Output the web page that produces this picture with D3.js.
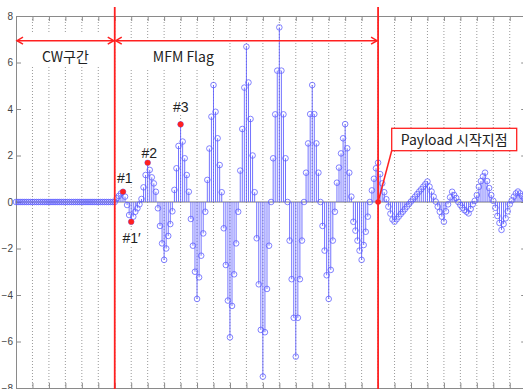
<!DOCTYPE html>
<html><head><meta charset="utf-8">
<script src="https://cdn.jsdelivr.net/npm/d3@7"></script>
<style>body{margin:0;background:#fff}svg{display:block}</style>
</head><body>
<svg id="chart" width="523" height="389"></svg>
<script>
// ---- data ----
const cwValues = [0,0,0,0,0,0,0,0,0,0,0,0,0,0,0,0,0,0,0,0,0,0,0,0,0,0,0,0,0,0,0,0,0,0,0,0,0,0,0,0,0,0,0,0,0,0,0,0,0];
const mfmValues = [
  0.16, 0.26, 0.37, 0.44, 0.23, -0.13, -0.56, -0.85,
  -0.63, -0.42, -0.27, -0.10, 0.13, 0.63, 1.16, 1.69,
  1.38, 1.06, 0.80, 0.44, -0.27, -1.03, -1.78, -2.49,
  -2.00, -1.46, -0.95, -0.40, 0.52, 1.45, 2.41, 3.34,
  2.60, 1.88, 1.16, 0.44, -0.73, -1.88, -3.00, -4.17,
  -3.24, -2.31, -1.35, -0.42, 0.95, 2.30, 3.67, 5.03,
  3.88, 2.74, 1.59, 0.42, -1.13, -2.71, -4.24, -5.82,
  -4.47, -3.11, -1.78, -0.42, 1.35, 3.14, 4.92, 6.68,
  5.14, 3.57, 2.00, 0.42, -1.56, -3.54, -5.50, -7.51,
  -5.60, -3.74, -1.88, 0, 1.88, 3.77, 5.65, 7.51,
  5.65, 3.77, 1.88, 0, -1.66, -3.32, -4.98, -6.65,
  -4.98, -3.32, -1.66, 0, 1.26, 2.52, 3.78, 5.03,
  3.78, 2.52, 1.26, 0, -1.03, -2.09, -3.15, -4.17,
  -2.92, -1.66, -0.42, 0.83, 1.48, 2.09, 2.74, 3.35,
  2.31, 1.26, 0.23, -0.85, -1.23, -1.66, -2.09, -2.49,
  -1.85, -1.28, -0.63, 0, 0.50, 1.00, 1.45
];
const payloadValues = [
  1.69, 1.20, 0.80, 0.42, 0.12, -0.20, -0.50, -0.75,
  -0.85, -0.74, -0.63, -0.52, -0.42, -0.31, -0.20, -0.09,
  0.02, 0.12, 0.23, 0.34, 0.45, 0.55, 0.66, 0.77,
  0.88, 0.66, 0.45, 0.23, 0.02, -0.20, -0.42, -0.63,
  -0.85, -0.40, -0.10, 0.20, 0.44, 0.30, 0.17, 0.00,
  -0.13, -0.25, -0.35, -0.42, -0.49, -0.30, -0.10, 0.05,
  0.30, 0.65, 0.90, 1.10, 1.26, 0.90, 0.60, 0.30,
  0.05, -0.25, -0.60, -0.90, -1.20, -0.95, -0.70, -0.40,
  -0.10, 0.07, 0.23, 0.37, 0.45, 0.37, 0.25, 0.15,
  0.05
];
const yTicks = [-8, -6, -4, -2, 0, 2, 4, 6, 8];
const xGridStep = 8;
const xDomain = [0, 248];
const sectionBounds = [48, 176];
const annotatedSamples = [52, 56, 64, 80];
const annotationLabels = ["#1", "#1\u2032", "#2", "#3"];
const payloadStart = 176;
const sectionLabels = ["CW구간", "MFM Flag"];
const calloutText = "Payload 시작지점";

// ---- build ----
const values = cwValues.concat(mfmValues, payloadValues);
const data = values.map((v, i) => ({ i, v }));

const svg = d3.select("#chart");
const x = d3.scaleLinear().domain(xDomain).range([16, 526.2]);
const y = d3.scaleLinear().domain([-8, 8]).range([388, 16]);

const blue = "#5c5cff";
const red = "#ff2020";
const axisGray = "#8a8a8a";

const gridVals = d3.range(xDomain[0] + xGridStep, xDomain[1], xGridStep);

// dotted vertical grid
svg.append("g").selectAll("line").data(gridVals).join("line")
  .attr("x1", d => x(d)).attr("x2", d => x(d))
  .attr("y1", y(8)).attr("y2", y(-8))
  .attr("stroke", "#9a9a9a").attr("stroke-width", 1)
  .attr("stroke-dasharray", "1,2");

// white boxes behind section labels
svg.append("rect").attr("x", x(2)).attr("y", 34).attr("width", x(46) - x(2)).attr("height", 33).attr("fill", "#fff");
svg.append("rect").attr("x", x(54)).attr("y", 43).attr("width", x(100) - x(54)).attr("height", 25).attr("fill", "#fff");

// axes
function styleAxis(g) {
  g.selectAll("path,line").attr("stroke", axisGray);
  g.selectAll("text").attr("fill", "#444").attr("font-family", "Liberation Sans, Arial, sans-serif").attr("font-size", 10);
}
svg.append("g").attr("transform", `translate(${x(xDomain[0])},0)`)
  .call(d3.axisLeft(y).tickValues(yTicks).tickSize(-5).tickSizeOuter(0).tickPadding(3).tickFormat(d3.format("d")))
  .call(styleAxis);
svg.append("g").attr("transform", `translate(${x(xDomain[1])},0)`)
  .call(d3.axisRight(y).tickValues(yTicks).tickSize(-5).tickSizeOuter(0).tickFormat(""))
  .call(styleAxis);
svg.append("g").attr("transform", `translate(0,${y(8)})`)
  .call(d3.axisTop(x).tickValues(gridVals).tickSize(-5).tickSizeOuter(0).tickFormat(""))
  .call(styleAxis);
svg.append("g").attr("transform", `translate(0,${y(-8)})`)
  .call(d3.axisBottom(x).tickValues(gridVals).tickSize(-5).tickSizeOuter(0).tickFormat(""))
  .call(styleAxis);

// baseline
svg.append("line").attr("x1", x(xDomain[0])).attr("x2", x(xDomain[1]))
  .attr("y1", y(0)).attr("y2", y(0)).attr("stroke", "#777").attr("stroke-width", 1);

// stems
const plot = svg.append("g");
plot.selectAll("line.stem").data(data).join("line").attr("class", "stem")
  .attr("x1", d => x(d.i)).attr("x2", d => x(d.i))
  .attr("y1", y(0)).attr("y2", d => y(d.v))
  .attr("stroke", blue).attr("stroke-width", 1).attr("stroke-opacity", 0.85);
plot.selectAll("circle.mk").data(data).join("circle").attr("class", "mk")
  .attr("cx", d => x(d.i)).attr("cy", d => y(d.v)).attr("r", 2.8)
  .attr("fill", "none").attr("stroke", blue).attr("stroke-width", 0.9).attr("stroke-opacity", 0.85);

// section red lines
svg.append("g").selectAll("line").data(sectionBounds).join("line")
  .attr("x1", d => x(d)).attr("x2", d => x(d))
  .attr("y1", 7).attr("y2", 389)
  .attr("stroke", red).attr("stroke-width", 1.8);

// arrows
const ay = y(6.94);
const arrows = [[xDomain[0], sectionBounds[0]], [sectionBounds[0], sectionBounds[1]]];
const ag = svg.append("g").attr("stroke", red).attr("stroke-width", 1.5).attr("fill", "none");
arrows.forEach(([a, b]) => {
  const xa = x(a) + 1, xb = x(b) - 1;
  ag.append("line").attr("x1", xa).attr("x2", xb).attr("y1", ay).attr("y2", ay);
  ag.append("path").attr("d", `M${xa + 6},${ay - 3.5}L${xa},${ay}L${xa + 6},${ay + 3.5}`);
  ag.append("path").attr("d", `M${xb - 6},${ay - 3.5}L${xb},${ay}L${xb - 6},${ay + 3.5}`);
});

// section labels
const korFont = "'Noto Sans CJK KR', 'Noto Sans', sans-serif";
svg.append("text").attr("x", (x(xDomain[0]) + x(sectionBounds[0])) / 2).attr("y", 62)
  .attr("text-anchor", "middle").attr("font-family", korFont).attr("font-size", 14).attr("fill", "#222")
  .text(sectionLabels[0]);
svg.append("text").attr("x", x(66.5)).attr("y", 62)
  .attr("font-family", korFont).attr("font-size", 14).attr("fill", "#222")
  .text(sectionLabels[1]);

// annotation labels with white background
const labelPos = [[117, 182.5], [122.5, 243], [141.5, 157.5], [173, 112]];
annotationLabels.forEach((t, k) => {
  const g = svg.append("g");
  const bg = g.append("rect").attr("fill", "#fff");
  const tx = g.append("text").attr("x", labelPos[k][0]).attr("y", labelPos[k][1])
    .attr("font-family", "Liberation Sans, Arial, sans-serif").attr("font-size", 14).attr("fill", "#222").text(t);
  const bb = tx.node().getBBox();
  bg.attr("x", bb.x - 1).attr("y", bb.y + 1).attr("width", bb.width + 2).attr("height", bb.height - 2);
});

// red annotated points
svg.append("g").selectAll("circle").data(annotatedSamples).join("circle")
  .attr("cx", d => x(d)).attr("cy", d => y(values[d])).attr("r", 2.8).attr("fill", red);

// payload callout
const bx = 391.7, by = 128.3, bw = 125, bh = 22.4;
svg.append("line").attr("x1", bx).attr("y1", by + bh).attr("x2", x(payloadStart)).attr("y2", y(0))
  .attr("stroke", red).attr("stroke-width", 1.5);
svg.append("rect").attr("x", bx).attr("y", by).attr("width", bw).attr("height", bh)
  .attr("fill", "#fff").attr("stroke", red).attr("stroke-width", 1.3);
svg.append("text").attr("x", bx + bw / 2).attr("y", by + 16.5).attr("text-anchor", "middle")
  .attr("font-family", korFont).attr("font-size", 14).attr("fill", "#222").text(calloutText);
svg.append("circle").attr("cx", x(payloadStart)).attr("cy", y(0)).attr("r", 2.8).attr("fill", red);
</script>
</body></html>
